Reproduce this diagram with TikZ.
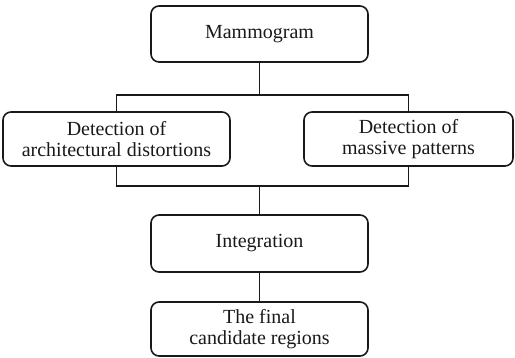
\documentclass[tikz,border=0pt]{standalone}
\usepackage{fontspec}
\setmainfont{Liberation Serif}
\begin{document}
\begin{tikzpicture}[x=1pt,y=1pt,
  box/.style={draw=black!90, line width=1.6pt, rounded corners=8pt, align=center,
    font=\fontsize{20}{21.5}\selectfont, text=black!90, inner sep=0pt},
  conn/.style={draw=black!90, line width=1.6pt}]
\useasboundingbox (0,0) rectangle (515,358);
\node[box, minimum width=217, minimum height=56] (mam) at (259.5,324) {Mammogram};
\node[box, minimum width=227, minimum height=54] (lt) at (116.5,219) {Detection of\\architectural distortions};
\node[box, minimum width=209, minimum height=54] (rt) at (408.5,219) {Detection of\\massive patterns};
\node[box, minimum width=217, minimum height=57] (int) at (259.5,114.5) {Integration};
\node[box, minimum width=217, minimum height=54] (fin) at (259.5,29) {The final\\candidate regions};
\coordinate (s1) at (259.5,263);
\coordinate (s2) at (259.5,172);
\draw[conn] (mam.south) -- (s1);
\draw[conn] (lt.north) |- (s1) -| (rt.north);
\draw[conn] (lt.south) |- (s2) -| (rt.south);
\draw[conn] (s2) -- (int.north);
\draw[conn] (int.south) -- (fin.north);
\end{tikzpicture}
\end{document}
